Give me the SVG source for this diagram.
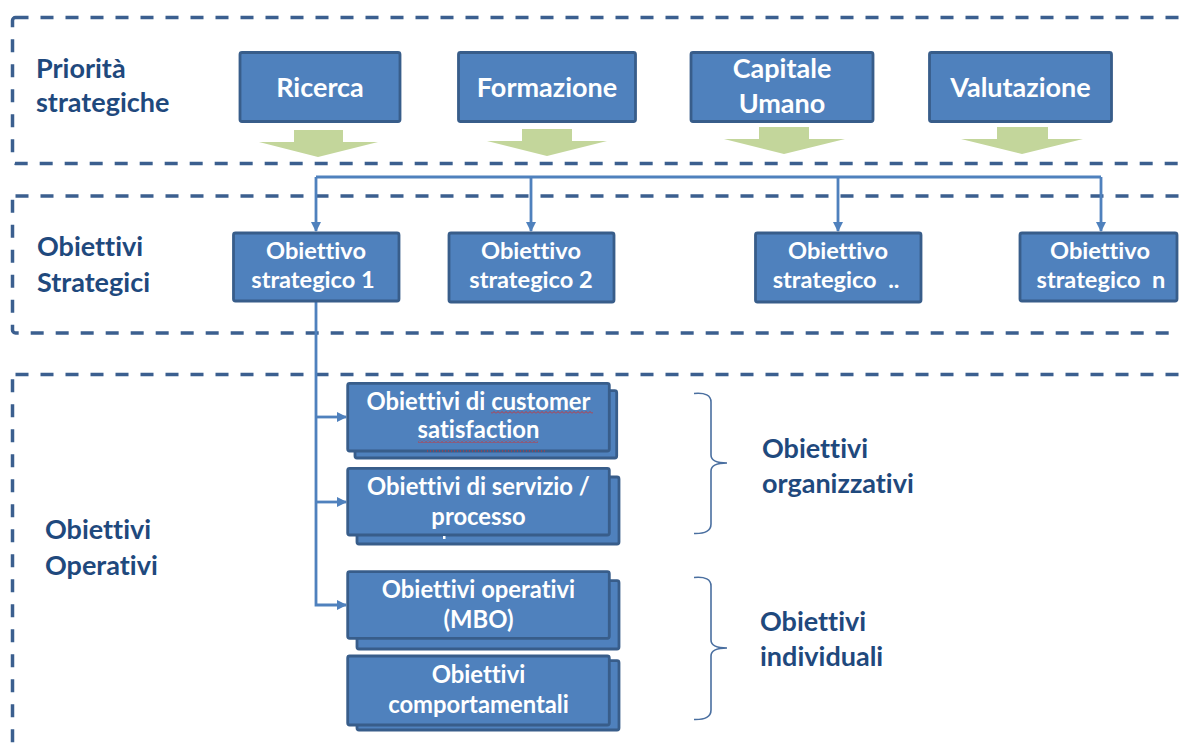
<svg xmlns="http://www.w3.org/2000/svg" width="1179" height="746" viewBox="0 0 1179 746">
<style>
text{font-variant-ligatures:none;font-feature-settings:"liga" 0,"clig" 0}
.zone{fill:none;stroke:#3b5f8f;stroke-width:3.5;stroke-dasharray:13 12}
.box{fill:#4f81bd;stroke:#385d8a;stroke-width:2.8}
.bt{font-family:Lato,'Liberation Sans',sans-serif;font-weight:bold;fill:#ffffff;text-anchor:middle}
.p{font-size:27px}
.s{font-size:23.6px;white-space:pre}
.o{font-size:23.8px}
.lab{font-family:Lato,'Liberation Sans',sans-serif;font-weight:bold;fill:#1f497d;font-size:27px}
.green{fill:#c3d69b}
.conn{fill:none;stroke:#4f81bd;stroke-width:2.8}
.brace{fill:none;stroke:#4a6fa0;stroke-width:1.6}
</style>
<defs>
<marker id="ah" markerUnits="userSpaceOnUse" markerWidth="10" markerHeight="10" refX="9" refY="5" orient="auto">
<path d="M0,0 L10,5 L0,10 Z" fill="#4f81bd"/>
</marker>
<pattern id="wave" patternUnits="userSpaceOnUse" width="4" height="3">
<path d="M0,2.5 L2,0.5 L4,2.5" fill="none" stroke="#d03030" stroke-width="0.9"/>
</pattern>
</defs>

<g id="zones">
<rect class="zone" x="12.5" y="17.5" width="1200" height="146" rx="3"/>
<rect class="zone" x="12.5" y="196" width="1200" height="137" rx="3"/>
<rect class="zone" x="12.5" y="374.5" width="1200" height="400" rx="3"/>
</g>

<g id="labels">
<text class="lab" x="36" y="78">Priorità</text>
<text class="lab" x="36" y="112">strategiche</text>
<text class="lab" x="37" y="256">Obiettivi</text>
<text class="lab" x="37" y="292">Strategici</text>
<text class="lab" x="45" y="539">Obiettivi</text>
<text class="lab" x="45" y="575">Operativi</text>
<text class="lab" x="762" y="458">Obiettivi</text>
<text class="lab" x="762" y="493">organizzativi</text>
<text class="lab" x="760" y="631">Obiettivi</text>
<text class="lab" x="760" y="666">individuali</text>
</g>

<g id="priority-arrows">
<path class="green" d="M294,130 H343 V142 H378 L318,157 L259,142 H294 Z"/>
<path class="green" d="M522,129 H572 V141 H607 L547,156 L487,141 H522 Z"/>
<path class="green" d="M759,127 H809 V139 H845 L784,154 L724,139 H759 Z"/>
<path class="green" d="M997,127 H1048 V139 H1083 L1022,154 L961,139 H997 Z"/>
</g>

<g id="p-ricerca"><rect class="box" x="240" y="52.5" width="160" height="69" rx="2"/><text class="bt p" x="320" y="97">Ricerca</text></g>
<g id="p-formazione"><rect class="box" x="458.5" y="52.5" width="177" height="69" rx="2"/><text class="bt p" x="547" y="97">Formazione</text></g>
<g id="p-capitale"><rect class="box" x="691" y="52.5" width="182" height="69" rx="2"/><text class="bt p" x="782" y="78">Capitale</text><text class="bt p" x="782" y="113">Umano</text></g>
<g id="p-valutazione"><rect class="box" x="929.5" y="52.5" width="182" height="69" rx="2"/><text class="bt p" x="1020.5" y="97">Valutazione</text></g>

<g id="connectors">
<path class="conn" d="M316,177 H1101"/>
<path class="conn" d="M316,177 V231" marker-end="url(#ah)"/>
<path class="conn" d="M531,177 V231" marker-end="url(#ah)"/>
<path class="conn" d="M838,177 V231" marker-end="url(#ah)"/>
<path class="conn" d="M1101,177 V231" marker-end="url(#ah)"/>
<path class="conn" d="M316,302 V605 H346" marker-end="url(#ah)"/>
<path class="conn" d="M316,417 H346" marker-end="url(#ah)"/>
<path class="conn" d="M316,502 H346" marker-end="url(#ah)"/>
</g>

<g id="s-1"><rect class="box" x="233.5" y="233" width="165.5" height="68" rx="2"/><text class="bt s" x="316" y="259">Obiettivo</text><text class="bt s" x="313" y="288">strategico 1</text></g>
<g id="s-2"><rect class="box" x="449" y="233" width="165" height="69" rx="2"/><text class="bt s" x="531" y="259">Obiettivo</text><text class="bt s" x="531" y="288">strategico 2</text></g>
<g id="s-3"><rect class="box" x="755.5" y="233" width="165.5" height="69" rx="2"/><text class="bt s" x="838" y="259">Obiettivo</text><text class="bt s" x="836" y="288">strategico  ..</text></g>
<g id="s-n"><rect class="box" x="1020" y="233" width="157" height="68" rx="2"/><text class="bt s" x="1100" y="259">Obiettivo</text><text class="bt s" x="1101" y="288">strategico  n</text></g>

<g id="o-customer">
<rect class="box" x="355" y="390.7" width="261.7" height="67.3" rx="2"/>
<rect class="box" x="347.7" y="383.3" width="261.6" height="67.7" rx="2"/>
<text class="bt o" x="478.5" y="410">Obiettivi di customer</text>
<text class="bt o" x="478.5" y="438">satisfaction</text>
<rect x="491" y="411" width="102" height="3" fill="url(#wave)"/>
<rect x="418" y="440" width="120" height="3" fill="url(#wave)"/>
<line x1="427" y1="451" x2="545" y2="451" stroke="#d03030" stroke-width="1" stroke-dasharray="1 2"/>
</g>
<g id="o-servizio">
<rect class="box" x="357" y="477" width="262" height="67" rx="2"/>
<rect class="box" x="347.7" y="468.3" width="261.6" height="66.7" rx="2"/>
<text class="bt o" x="478.5" y="495">Obiettivi di servizio /</text>
<text class="bt o" x="478.5" y="525">processo</text>
<rect x="443" y="536" width="2.5" height="3" fill="#ffffff"/>
</g>
<g id="o-mbo">
<rect class="box" x="357" y="580.7" width="262" height="68.3" rx="2"/>
<rect class="box" x="347.7" y="571.7" width="261.6" height="66.6" rx="2"/>
<text class="bt o" x="478.5" y="598">Obiettivi operativi</text>
<text class="bt o" x="478.5" y="628">(MBO)</text>
</g>
<g id="o-comport">
<rect class="box" x="357" y="660.7" width="262" height="69.3" rx="2"/>
<rect class="box" x="347.7" y="656" width="261.6" height="69" rx="2"/>
<text class="bt o" x="478.5" y="683">Obiettivi</text>
<text class="bt o" x="478.5" y="713">comportamentali</text>
</g>

<g id="braces">
<path class="brace" d="M694,393.5 Q711,392 711,402 V455 Q711,463 727,463 Q711,463 711,471 V524 Q711,534 694,533.5"/>
<path class="brace" d="M694,577.5 Q711,576 711,586 V640 Q711,648 727,648 Q711,648 711,656 V710 Q711,720 694,719.5"/>
</g>
</svg>
